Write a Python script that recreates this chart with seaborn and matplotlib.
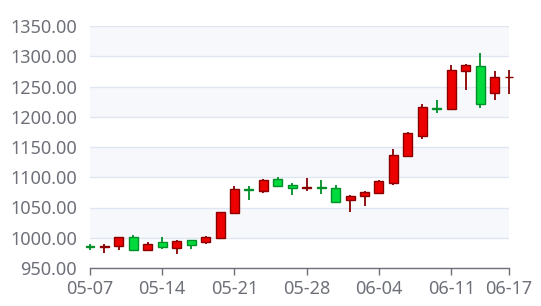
import matplotlib
matplotlib.use("Agg")
import matplotlib.pyplot as plt
import numpy as np
import pandas as pd
import seaborn as sns

dates = ["05-07", "05-08", "05-09", "05-10", "05-13", "05-14", "05-15", "05-16",
         "05-17", "05-20", "05-21", "05-22", "05-23", "05-24", "05-27", "05-28",
         "05-29", "05-30", "05-31", "06-03", "06-04", "06-05", "06-06", "06-07",
         "06-10", "06-11", "06-12", "06-13", "06-14", "06-17"]
open_ = [986, 985, 986, 1000.5, 980, 992.5, 983, 995.5, 993.5, 999.5,
         1040.5, 1081, 1078, 1097, 1087, 1083, 1084, 1083, 1062, 1069,
         1073.5, 1090, 1135, 1169, 1215, 1212.5, 1276, 1284, 1239, 1265]
close = [985, 986.5, 1000.5, 979.5, 989.5, 984, 995, 988, 1001.5, 1042,
         1080, 1079, 1096, 1086, 1082, 1084, 1082.5, 1058.5, 1069, 1075.5,
         1093, 1137, 1172.5, 1216, 1213, 1277.5, 1285, 1220.5, 1265.5, 1266]
high = [990, 990, 1001, 1005, 993.5, 1001.5, 996, 997, 1003, 1043,
        1086, 1085.5, 1097, 1100, 1090, 1099, 1095.5, 1087, 1070, 1078,
        1096, 1147, 1175, 1221, 1228, 1285.5, 1286.5, 1305, 1275.5, 1277]
low = [980, 975, 979, 977.5, 979, 981, 973, 982, 990, 999,
       1039, 1062, 1073.5, 1085, 1070, 1078, 1072, 1057, 1043, 1053,
       1072, 1088, 1133, 1163, 1206, 1211, 1245, 1215, 1227.5, 1237]
tick_idx = [0, 5, 10, 15, 20, 25, 29]
y_ticks = [950, 1000, 1050, 1100, 1150, 1200, 1250, 1300, 1350]

df = pd.DataFrame({"date": dates, "open": open_, "close": close,
                   "high": high, "low": low})
df["x"] = np.arange(len(df))
df["up"] = df["close"] >= df["open"]

UP, UP_EDGE = "#ec0000", "#8A0000"
DOWN, DOWN_EDGE = "#00da3c", "#008F28"
LABEL = "#6E7079"

sns.set_theme(style="white")
plt.rcParams["font.family"] = ["Noto Sans", "DejaVu Sans"]

fig = plt.figure(figsize=(5.41, 3.06), dpi=100)
ax = fig.add_axes([90 / 541, 1 - 268 / 306, (509 - 90) / 541, (268 - 26) / 306])

# split areas
for k in range(len(y_ticks) - 1):
    if k % 2 == 1:
        ax.axhspan(y_ticks[k], y_ticks[k + 1], color="#F6F8FC", zorder=0, lw=0)

ax.set_yticks(y_ticks)
ax.set_yticklabels([f"{v:.2f}" for v in y_ticks])
ax.yaxis.grid(True, color="#E0E6F1", linewidth=1, zorder=1)
ax.set_axisbelow(True)

edge = np.where(df["up"], UP_EDGE, DOWN_EDGE)
face = np.where(df["up"], UP, DOWN)

ax.vlines(df["x"], df["low"], df["high"], colors=edge, linewidth=1.3,
          zorder=2, clip_on=False)
bottoms = np.minimum(df["open"], df["close"])
heights = np.maximum(np.abs(df["close"] - df["open"]), 0.3)
ax.bar(df["x"], heights, bottom=bottoms, width=0.62, color=face,
       edgecolor=edge, linewidth=1, zorder=3, clip_on=False)

ax.set_xlim(0, len(df) - 1)
ax.set_ylim(950, 1350)
ax.set_xticks(tick_idx)
ax.set_xticklabels([dates[i] for i in tick_idx])

for s in ["top", "right", "left"]:
    ax.spines[s].set_visible(False)
ax.spines["bottom"].set_color(LABEL)
ax.spines["bottom"].set_linewidth(1)
ax.spines["bottom"].set_zorder(4)

ax.tick_params(axis="x", direction="out", length=5, width=1, color=LABEL,
               labelcolor=LABEL, labelsize=13, pad=4, bottom=True)
ax.tick_params(axis="y", length=0, labelcolor=LABEL, labelsize=13, pad=9.5)

fig.savefig("out.png", dpi=100)
